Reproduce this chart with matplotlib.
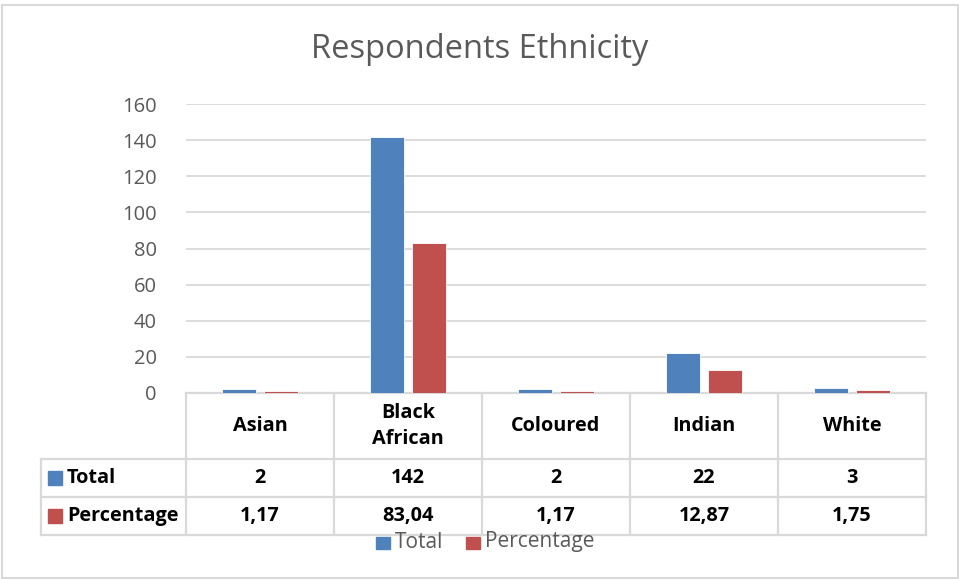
import matplotlib
matplotlib.use("Agg")
import matplotlib.pyplot as plt
from matplotlib.patches import Rectangle

# data
categories = ["Asian", "Black\nAfrican", "Coloured", "Indian", "White"]
total = [2, 142, 2, 22, 3]
percentage = [1.17, 83.04, 1.17, 12.87, 1.75]
total_labels = ["2", "142", "2", "22", "3"]
pct_labels = ["1,17", "83,04", "1,17", "12,87", "1,75"]
series = ["Total", "Percentage"]

BLUE = "#4F81BD"
RED = "#C0504D"
GRID = "#D9D9D9"
GREY = "#595959"
FONT = "Open Sans"

W, H = 959, 580
fig = plt.figure(figsize=(W / 100, H / 100), dpi=100)

# overlay in pixel coords (y downward) for table, title, legend, border
ov = fig.add_axes([0, 0, 1, 1], zorder=0)
ov.set_xlim(0, W); ov.set_ylim(H, 0); ov.axis("off")

# plot area: x 186..926, y 104 (160) .. 393 (0)
L, R, T, B = 186, 926, 104, 393
ax = fig.add_axes([L / W, 1 - B / H, (R - L) / W, (B - T) / H], zorder=1)
ax.patch.set_alpha(0)
n = len(categories)
xs = range(n)
bw = 0.23
ax.bar([x - 0.142 for x in xs], total, bw, color=BLUE, edgecolor="white", linewidth=0.6, zorder=3)
ax.bar([x + 0.142 for x in xs], percentage, bw, color=RED, edgecolor="white", linewidth=0.6, zorder=3)
ax.set_xlim(-0.5, n - 0.5)
ax.set_ylim(0, 160)
ax.set_yticks(range(0, 161, 20))
ax.yaxis.grid(True, color=GRID, linewidth=1.3, zorder=0)
ax.set_xticks([])
for s in ["top", "right", "left", "bottom"]:
    ax.spines[s].set_visible(False)
ax.tick_params(axis="y", length=0, pad=21, labelsize=14.5, labelcolor=GREY)
for lab in ax.get_yticklabels():
    lab.set_fontfamily(FONT)

# border
ov.add_patch(Rectangle((2, 5), 956, 573, fill=False, edgecolor=GRID, linewidth=1.5))

# title
ov.text(480, 49, "Respondents Ethnicity", ha="center", va="center",
        fontsize=23.5, color=GREY, family=FONT)

# data table
col_w = (R - L) / n
rows_y = [B, 459, 497, 535]
lw = 1.6
ov.plot([L, R], [B, B], color=GRID, lw=lw)
for y in rows_y[1:]:
    ov.plot([41, R], [y, y], color=GRID, lw=lw)
ov.plot([41, 41], [rows_y[1], rows_y[3]], color=GRID, lw=lw)
for i in range(n + 1):
    x = L + i * col_w
    ov.plot([x, x], [B, rows_y[3]], color=GRID, lw=lw)

FS = 14.3
ys = [(rows_y[k] + rows_y[k + 1]) / 2 for k in range(3)]
for i, cat in enumerate(categories):
    cx = L + (i + 0.5) * col_w
    ov.text(cx, ys[0], cat, ha="center", va="center", fontsize=FS,
            fontweight="bold", family=FONT, linespacing=1.4)
    ov.text(cx, ys[1], total_labels[i], ha="center", va="center", fontsize=FS,
            fontweight="bold", family=FONT)
    ov.text(cx, ys[2], pct_labels[i], ha="center", va="center", fontsize=FS,
            fontweight="bold", family=FONT)

for name, col, y in zip(series, [BLUE, RED], ys[1:]):
    ov.add_patch(Rectangle((48, y - 7), 14, 14, color=col))
    ov.text(67, y, name, ha="left", va="center", fontsize=FS,
            fontweight="bold", family=FONT)

# legend
for name, col, x in zip(series, [BLUE, RED], [376, 466]):
    ov.add_patch(Rectangle((x, 537), 14, 12, color=col))
    ov.text(x + 19, 542, name, ha="left", va="center", fontsize=15,
            color=GREY, family=FONT)

fig.savefig("out.png", dpi=100, facecolor="white")
